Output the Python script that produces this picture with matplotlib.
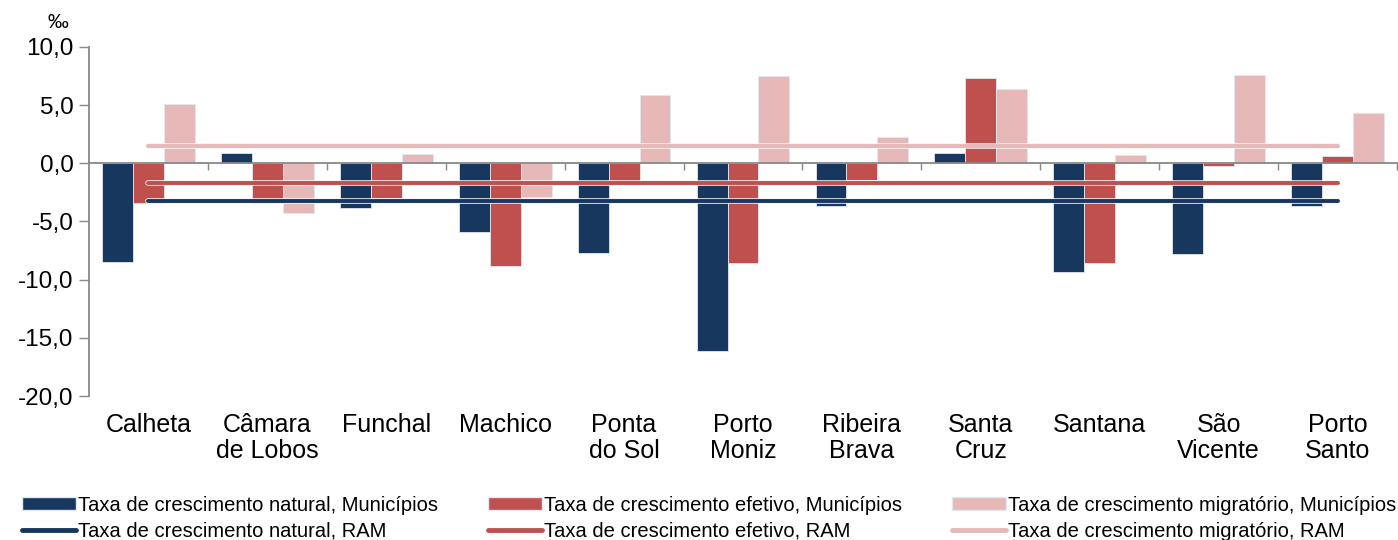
import matplotlib
matplotlib.use("Agg")
import matplotlib.pyplot as plt
import matplotlib.patheffects as pe
from matplotlib.lines import Line2D
from matplotlib.patches import Patch
from matplotlib.transforms import blended_transform_factory
import numpy as np

plt.rcParams['font.family'] = ['Liberation Sans', 'DejaVu Sans']

categories = ["Calheta", "Câmara\nde Lobos", "Funchal", "Machico", "Ponta\ndo Sol",
              "Porto\nMoniz", "Ribeira\nBrava", "Santa\nCruz", "Santana", "São\nVicente",
              "Porto\nSanto"]
natural = [-8.5, 0.9, -3.8, -5.9, -7.7, -16.1, -3.7, 0.9, -9.3, -7.8, -3.7]
efetivo = [-3.4, -3.4, -3.0, -8.8, -1.8, -8.6, -1.4, 7.3, -8.6, -0.2, 0.6]
migratorio = [5.1, -4.3, 0.8, -2.9, 5.9, 7.5, 2.3, 6.4, 0.7, 7.6, 4.3]
ram_natural = -3.2
ram_efetivo = -1.7
ram_migratorio = 1.5

series_labels = ["Taxa de crescimento natural, Municípios",
                 "Taxa de crescimento efetivo, Municípios",
                 "Taxa de crescimento migratório, Municípios",
                 "Taxa de crescimento natural, RAM",
                 "Taxa de crescimento efetivo, RAM",
                 "Taxa de crescimento migratório, RAM"]

c_nat = "#17375E"
c_ef = "#C0504D"
c_mig = "#E6B9B8"

fig = plt.figure(figsize=(13.98, 5.4), dpi=100)
ax = fig.add_axes([89/1398, 1-396/540, (1397-89)/1398, (396-47)/540])

x = np.arange(len(categories))
w = 0.26
for vals, off, col in [(natural, -w, c_nat), (efetivo, 0, c_ef), (migratorio, w, c_mig)]:
    ax.bar(x + off, vals, width=w, color=col, edgecolor="#E4E8EE", linewidth=0.6, zorder=2)

stroke = [pe.Stroke(linewidth=4.0, foreground="#F4F4F4"), pe.Normal()]
for val, col in [(ram_migratorio, c_mig), (ram_efetivo, c_ef), (ram_natural, c_nat)]:
    ax.plot([x[0], x[-1]], [val, val], color=col, lw=2.8, solid_capstyle="round",
            zorder=3, path_effects=stroke)

ax.set_xlim(-0.5, len(categories) - 0.5)
ax.set_ylim(-20, 10)
yt = np.arange(-20, 10.1, 5)
ax.set_yticks(yt)
ax.set_yticklabels([f"{v:.1f}".replace(".", ",") for v in yt], fontsize=17.5)
ax.tick_params(axis="y", direction="out", length=7, width=1, color="#888888", pad=4)

for s in ["top", "right"]:
    ax.spines[s].set_visible(False)
ax.spines["left"].set_color("#888888")
ax.spines["left"].set_linewidth(1.3)
ax.spines["bottom"].set_position(("data", 0))
ax.spines["bottom"].set_color("#888888")
ax.spines["bottom"].set_linewidth(1.3)
ax.set_xticks(np.arange(0.5, len(categories)))
ax.set_xticklabels([])
ax.tick_params(axis="x", direction="out", length=5, width=1, color="#888888")

trans = blended_transform_factory(ax.transData, ax.transAxes)
for i, lab in enumerate(categories):
    ax.text(i, -17/349, lab, transform=trans, ha="center", va="top", fontsize=18,
            linespacing=1.12)

fig.text(58/1398, 1-22/540, "‰", ha="center", va="center", fontsize=15)

handles = [Patch(facecolor=c_nat, edgecolor="#E4E8EE"),
           Line2D([], [], color=c_nat, lw=3.5, solid_capstyle="round"),
           Patch(facecolor=c_ef, edgecolor="#E4E8EE"),
           Line2D([], [], color=c_ef, lw=3.5, solid_capstyle="round"),
           Patch(facecolor=c_mig, edgecolor="#E4E8EE"),
           Line2D([], [], color=c_mig, lw=3.5, solid_capstyle="round")]
labels = [series_labels[0], series_labels[3], series_labels[1], series_labels[4],
          series_labels[2], series_labels[5]]
fig.legend(handles, labels, ncol=3, loc="lower left", bbox_to_anchor=(14/1398, -0.016),
           frameon=False, fontsize=14.5, handlelength=2.7, handleheight=0.6,
           handletextpad=0.1, columnspacing=2.45, labelspacing=0.33, borderaxespad=0)

fig.savefig("out.png", dpi=100)
